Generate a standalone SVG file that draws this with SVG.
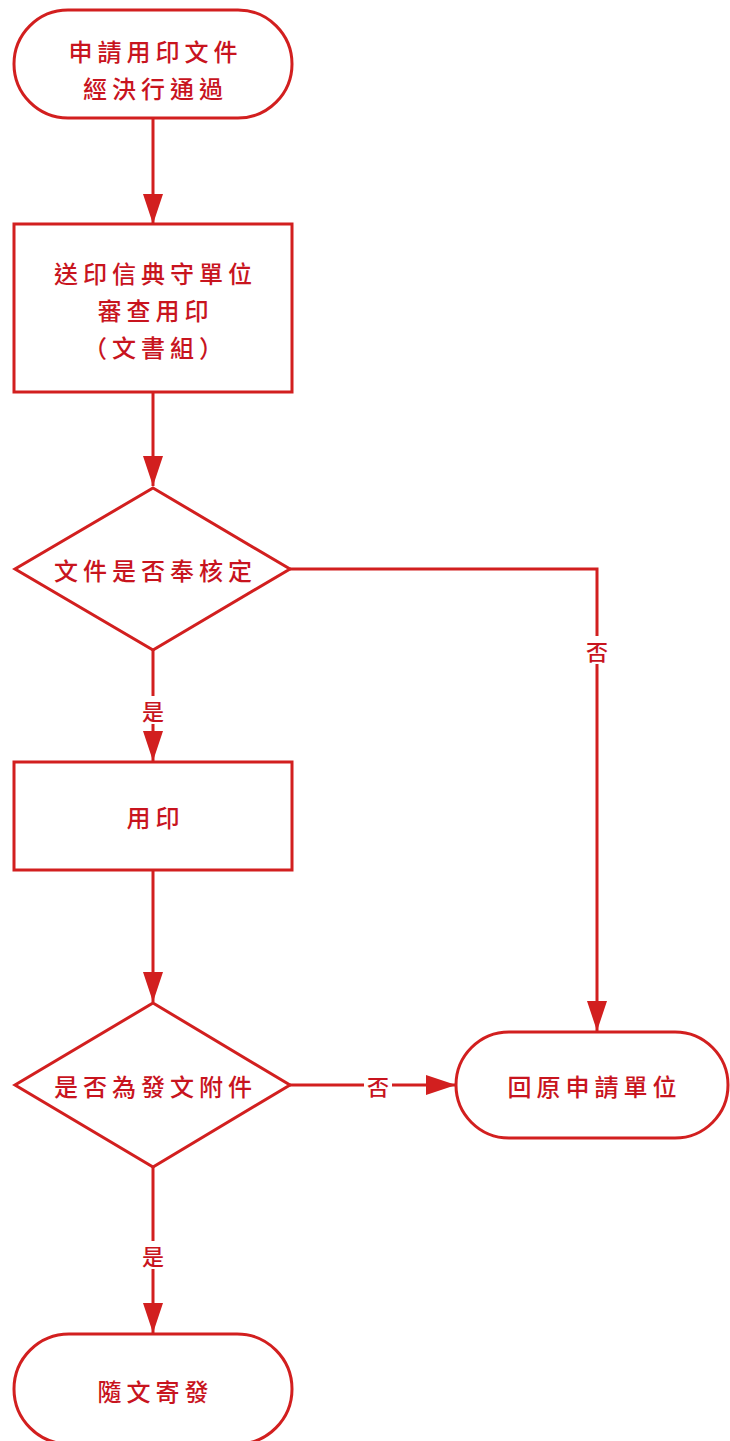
<svg xmlns="http://www.w3.org/2000/svg" width="730" height="1441" viewBox="0 0 730 1441">
<style>
.s{fill:#fff;stroke:#d21f1f;stroke-width:3}
.c{fill:none;stroke:#d21f1f;stroke-width:3}
.t{font-family:"Noto Sans CJK TC","Noto Sans CJK SC",sans-serif;font-size:24px;font-weight:500;fill:#c8141e;text-anchor:middle;dominant-baseline:central;letter-spacing:5px}
.l{font-family:"Noto Sans CJK TC","Noto Sans CJK SC",sans-serif;font-size:22px;font-weight:500;fill:#c8141e;text-anchor:middle;dominant-baseline:central}
</style>
<defs>
<marker id="a" markerUnits="userSpaceOnUse" markerWidth="30" markerHeight="20" refX="30" refY="10" viewBox="0 0 30 20" orient="auto">
<path d="M0,0 L30,10 L0,20 Z" fill="#d21f1f"/>
</marker>
</defs>
<rect width="730" height="1441" fill="#fff"/>
<g id="connectors">
<line class="c" x1="153" y1="118" x2="153" y2="224" marker-end="url(#a)"/>
<line class="c" x1="153" y1="392" x2="153" y2="486" marker-end="url(#a)"/>
<polyline class="c" points="290,569 597,569 597,636"/>
<line class="c" x1="597" y1="664" x2="597" y2="1031" marker-end="url(#a)"/>
<line class="c" x1="153" y1="650" x2="153" y2="696"/>
<line class="c" x1="153" y1="724" x2="153" y2="761" marker-end="url(#a)"/>
<line class="c" x1="153" y1="870" x2="153" y2="1002" marker-end="url(#a)"/>
<line class="c" x1="290" y1="1085" x2="364" y2="1085"/>
<line class="c" x1="392" y1="1085" x2="456" y2="1085" marker-end="url(#a)"/>
<line class="c" x1="153" y1="1167" x2="153" y2="1241"/>
<line class="c" x1="153" y1="1269" x2="153" y2="1333" marker-end="url(#a)"/>
<text class="l" x="597" y="650">否</text>
<text class="l" x="153" y="710">是</text>
<text class="l" x="378" y="1085">否</text>
<text class="l" x="153" y="1255">是</text>
</g>
<g id="start">
<rect class="s" x="14" y="10" width="278" height="108" rx="54" ry="54"/>
<text class="t" x="155.5" y="50">申請用印文件</text>
<text class="t" x="155.5" y="87">經決行通過</text>
</g>
<g id="review">
<rect class="s" x="14" y="224" width="278" height="168"/>
<text class="t" x="155.5" y="272">送印信典守單位</text>
<text class="t" x="155.5" y="309">審查用印</text>
<text class="t" x="155.5" y="346">（文書組）</text>
</g>
<g id="decision1">
<polygon class="s" points="153,488 290,569 153,650 15,569"/>
<text class="t" x="155.5" y="569">文件是否奉核定</text>
</g>
<g id="stamp">
<rect class="s" x="14" y="762" width="278" height="108"/>
<text class="t" x="155.5" y="816">用印</text>
</g>
<g id="decision2">
<polygon class="s" points="153,1003 290,1085 153,1167 15,1085"/>
<text class="t" x="155.5" y="1085">是否為發文附件</text>
</g>
<g id="return">
<rect class="s" x="456" y="1032" width="272" height="106" rx="53" ry="53"/>
<text class="t" x="594.5" y="1085">回原申請單位</text>
</g>
<g id="send">
<rect class="s" x="14" y="1334" width="278" height="110" rx="55" ry="55"/>
<text class="t" x="155.5" y="1390">隨文寄發</text>
</g>
</svg>
